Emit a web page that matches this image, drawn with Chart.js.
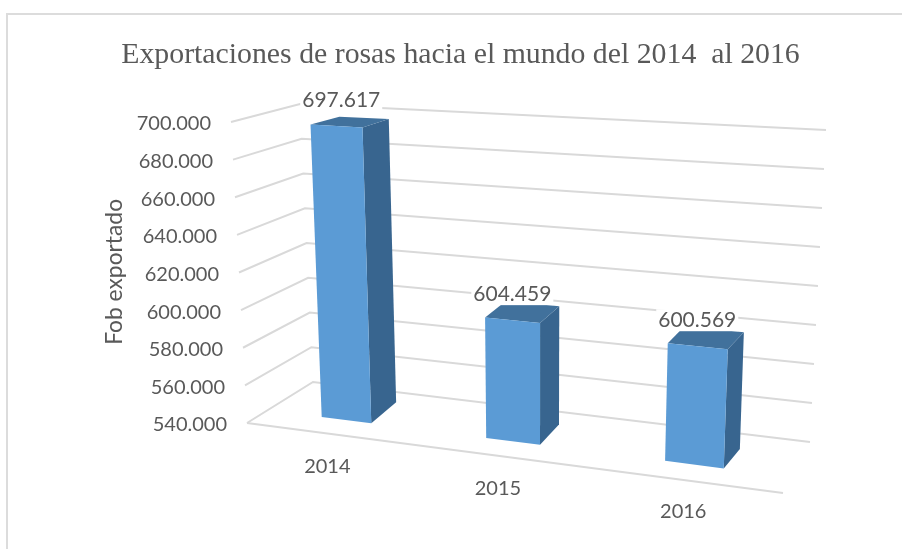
<!DOCTYPE html>
<html>
<head>
<meta charset="utf-8">
<style>
html,body{margin:0;padding:0;background:#fff;width:902px;height:549px;overflow:hidden}
#wrap{position:absolute;left:0;top:0;width:902px;height:549px;filter:blur(0.45px)}
#frame{position:absolute;left:6px;top:13px;right:0;bottom:0;border-left:2px solid #dcdcdc;border-top:2px solid #dcdcdc}
canvas{position:absolute;left:0;top:0}
</style>
<script src="https://cdn.jsdelivr.net/npm/chart.js@4"></script>
</head>
<body>
<div id="wrap"><div id="frame"></div><canvas id="c" width="902" height="549"></canvas></div>
<script>
const categories = ['2014', '2015', '2016'];
const exportValues = [697617, 604459, 600569];
const yMin = 540000, yMax = 700000, yStep = 20000;
const chartTitle = 'Exportaciones de rosas hacia el mundo del 2014  al 2016';
const yAxisTitle = 'Fob exportado';

const fmt = v => String(Math.round(v)).replace(/\B(?=(\d{3})+$)/g, '.');

// Perspective of the 3D view: maps the library's scale positions (u,v in 0..1) to the page
function homography(p0, p1, p2, p3) {
  const dx1 = p1[0]-p2[0], dx2 = p3[0]-p2[0], sx = p0[0]-p1[0]+p2[0]-p3[0];
  const dy1 = p1[1]-p2[1], dy2 = p3[1]-p2[1], sy = p0[1]-p1[1]+p2[1]-p3[1];
  const den = dx1*dy2-dx2*dy1;
  const g = (sx*dy2-dx2*sy)/den, h = (dx1*sy-sx*dy1)/den;
  const a = p1[0]-p0[0]+g*p1[0], b = p3[0]-p0[0]+h*p3[0], c = p0[0];
  const d = p1[1]-p0[1]+g*p1[1], e = p3[1]-p0[1]+h*p3[1], f = p0[1];
  return (u, v) => { const w = g*u+h*v+1; return [(a*u+b*v+c)/w, (d*u+e*v+f)/w]; };
}
const barFront = homography([268,410],[791,477],[806,146],[254,117]);
const barBack  = homography([298,389],[807,458],[822,133],[286,110]);
const lerp = (a, b, t) => [a[0]+(b[0]-a[0])*t, a[1]+(b[1]-a[1])*t];
const wallFront = v => lerp([247,423],[231,122],v);
const wallBackL = v => lerp([313,382],[300,104],v);
const wallBackR = v => lerp([810,442],[826,130],v);
const floorEnd = [783,493];

const GRID = '#d9d9d9', FRONT = '#5b9bd5', SIDE = '#38658f', TOP = '#41719c', TEXT = '#595959';

function poly(ctx, pts, color) {
  ctx.beginPath();
  pts.forEach((p, i) => i ? ctx.lineTo(p[0], p[1]) : ctx.moveTo(p[0], p[1]));
  ctx.closePath();
  ctx.fillStyle = color;
  ctx.fill();
}

const view3d = {
  id: 'view3d',
  beforeDraw(chart) {
    // grid lines in perspective, at the y scale's ticks
    const { ctx, chartArea: A, scales: { x, y } } = chart;
    ctx.save();
    ctx.strokeStyle = GRID;
    ctx.lineWidth = 2;
    y.ticks.forEach(t => {
      const v = (A.bottom - y.getPixelForValue(t.value)) / A.height;
      const a = wallFront(v), b = wallBackL(v), c = wallBackR(v);
      ctx.beginPath();
      ctx.moveTo(a[0], a[1]); ctx.lineTo(b[0], b[1]); ctx.lineTo(c[0], c[1]);
      ctx.stroke();
    });
    const a = wallFront(0);
    ctx.beginPath(); ctx.moveTo(a[0], a[1]); ctx.lineTo(floorEnd[0], floorEnd[1]); ctx.stroke();
    ctx.restore();

    // axis labels stay the library's own, shifted to follow the perspective
    y.getLabelItems().forEach((it, i) => {
      const v = (A.bottom - y.getPixelForValue(y.ticks[i].value)) / A.height;
      const p = wallFront(v);
      it.options.translation = [p[0] - 20, p[1] + 2];
    });
    x.getLabelItems().forEach((it, i) => {
      const u = (x.getPixelForValue(i) - A.left) / A.width;
      const p = barFront(u, 0);
      it.options.translation = [p[0] - 21 + 12 * u, p[1] + 47 - it.textOffset];
    });
  },
  beforeDatasetDraw(chart, args) {
    const { ctx, chartArea: A } = chart;
    const meta = args.meta;
    const U = px => (px - A.left) / A.width;
    const V = py => (A.bottom - py) / A.height;
    meta.data.forEach((bar, i) => {
      const l = U(bar.x - bar.width/2), r = U(bar.x + bar.width/2);
      const t = V(bar.y), b = V(bar.base);
      const fTL = barFront(l,t), fTR = barFront(r,t), fBL = barFront(l,b), fBR = barFront(r,b);
      const kTL = barBack(l,t), kTR = barBack(r,t), kBR = barBack(r,b);
      poly(ctx, [fTR, kTR, kBR, fBR], SIDE);
      poly(ctx, [fTL, kTL, kTR, fTR], TOP);
      poly(ctx, [fTL, fTR, fBR, fBL], FRONT);
      const c = barFront(U(bar.x), t);
      const lx = c[0] - 3.5 + 8.5 * t, ly = c[1] - 26;
      const label = fmt(exportValues[i]);
      ctx.save();
      ctx.font = '21px Lato';
      const w = ctx.measureText(label).width;
      ctx.fillStyle = '#fff';
      ctx.fillRect(lx - w/2 - 2, ly - 11, w + 4, 22);
      ctx.fillStyle = TEXT;
      ctx.textAlign = 'center';
      ctx.textBaseline = 'middle';
      ctx.fillText(label, lx, ly);
      ctx.restore();
    });
    return false;
  }
};

new Chart(document.getElementById('c'), {
  type: 'bar',
  data: {
    labels: categories,
    datasets: [{ label: yAxisTitle, data: exportValues, base: yMin, backgroundColor: FRONT, barPercentage: 0.31, categoryPercentage: 1 }]
  },
  plugins: [view3d],
  options: {
    responsive: false,
    animation: false,
    events: [],
    layout: { padding: { left: 101, right: 82, top: 37, bottom: 14 } },
    plugins: {
      legend: { display: false },
      tooltip: { enabled: false },
      title: {
        display: true,
        text: chartTitle,
        color: TEXT,
        font: { family: '"Liberation Serif"', size: 29.8, weight: 'normal' },
        padding: { top: 0, bottom: 50 }
      }
    },
    scales: {
      x: {
        grid: { display: false },
        border: { display: false },
        ticks: { color: TEXT, font: { family: 'Lato', size: 20 }, maxRotation: 0, padding: 41 }
      },
      y: {
        min: yMin, max: yMax,
        grid: { display: false },
        border: { display: false },
        ticks: { stepSize: yStep, autoSkip: false, color: TEXT, font: { family: 'Lato', size: 20 }, callback: v => fmt(v), padding: 38 },
        title: { display: true, text: yAxisTitle, color: TEXT, font: { family: 'Lato', size: 22.8 }, padding: 0 }
      }
    }
  }
});
</script>
</body>
</html>
